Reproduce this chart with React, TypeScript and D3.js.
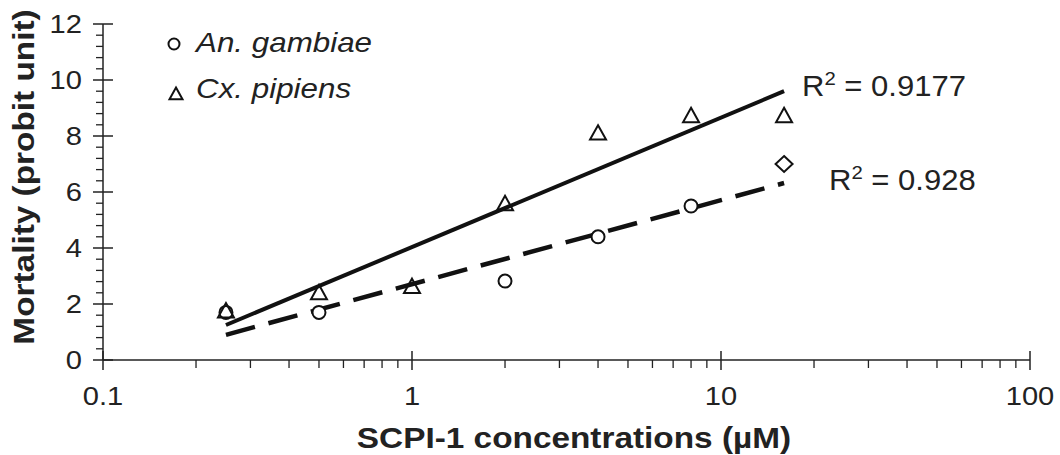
import React from "react";
import * as d3 from "d3";

const W = 1060;
const H = 455;

const cxX = [0.25, 0.5, 1, 2, 4, 8, 16];
const cxY = [1.75, 2.4, 2.62, 5.58, 8.1, 8.72, 8.72];
const anX = [0.25, 0.5, 2, 4, 8];
const anY = [1.7, 1.7, 2.82, 4.4, 5.5];
const extraX = [16];
const extraY = [7.0];

const trendX = [0.25, 16];
const trendCxY = [1.25, 9.6];
const trendAnY = [0.9, 6.32];

const xTicks = [0.1, 1, 10, 100];
const yTicks = [0, 2, 4, 6, 8, 10, 12];

const font = "Liberation Sans, Arial, sans-serif";

function T(props: {
  x: number;
  y: number;
  sx?: number;
  rot?: number;
  anchor?: string;
  size: number;
  bold?: boolean;
  italic?: boolean;
  children: React.ReactNode;
}) {
  const { x, y, sx = 1.12, rot = 0, anchor = "start", size, bold, italic, children } = props;
  return (
    <g transform={`translate(${x},${y}) rotate(${rot}) scale(${sx},1)`}>
      <text
        x={0}
        y={0}
        textAnchor={anchor}
        fontFamily={font}
        fontSize={size}
        fontWeight={bold ? "bold" : "normal"}
        fontStyle={italic ? "italic" : "normal"}
        fill="#222"
      >
        {children}
      </text>
    </g>
  );
}

export default function App() {
  const left = 103, right = 1030, top = 24, bottom = 360;
  const x = d3.scaleLog().domain([0.1, 100]).range([left, right]);
  const y = d3.scaleLinear().domain([0, 12]).range([bottom, top]);

  const minorX: number[] = [];
  for (const dec of [0.1, 1, 10]) for (let k = 2; k <= 9; k++) minorX.push(dec * k);
  const minorY: number[] = [];
  for (let i = 0; i <= 30; i++) {
    const v = +(i * 0.4).toFixed(2);
    if (Math.abs(v / 2 - Math.round(v / 2)) > 1e-6) minorY.push(v);
  }

  const line = d3.line<[number, number]>().x((d) => x(d[0])).y((d) => y(d[1]));
  const cxLine = line(trendX.map((v, i) => [v, trendCxY[i]]))!;
  const anLine = line(trendX.map((v, i) => [v, trendAnY[i]]))!;

  const tri = (cx: number, cy: number, s = 8) =>
    `M${cx},${cy - s}L${cx + s},${cy + s * 0.8}L${cx - s},${cy + s * 0.8}Z`;

  return (
    <svg width={W} height={H} style={{ position: "absolute", left: 0, top: 0, background: "#fff" }}>
      <rect width={W} height={H} fill="#fff" />
      {/* axes */}
      <line x1={left} x2={right} y1={bottom} y2={bottom} stroke="#222" strokeWidth={1.5} />
      <line x1={left} x2={left} y1={top} y2={bottom} stroke="#222" strokeWidth={1.5} />
      {xTicks.map((t) => (
        <g key={"xt" + t}>
          <line x1={x(t)} x2={x(t)} y1={bottom - 9} y2={bottom + 10} stroke="#222" strokeWidth={1.5} />
          <T x={x(t)} y={405} anchor="middle" size={26}>
            {t}
          </T>
        </g>
      ))}
      {minorX.map((t) => (
        <line key={"xm" + t} x1={x(t)} x2={x(t)} y1={bottom} y2={bottom + 8} stroke="#222" strokeWidth={1.3} />
      ))}
      {yTicks.map((t) => (
        <g key={"yt" + t}>
          <line x1={left - 10} x2={left + 10} y1={y(t)} y2={y(t)} stroke="#222" strokeWidth={1.5} />
          <T x={82} y={y(t) + 9} anchor="end" size={26}>
            {t}
          </T>
        </g>
      ))}
      {minorY.map((t) => (
        <line key={"ym" + t} x1={left - 7} x2={left} y1={y(t)} y2={y(t)} stroke="#222" strokeWidth={1.3} />
      ))}
      {/* axis titles */}
      <T x={34} y={177} rot={-90} anchor="middle" size={29} sx={1.15} bold>
        Mortality (probit unit)
      </T>
      <T x={574} y={448} anchor="middle" size={29} sx={1.15} bold>
        SCPI-1 concentrations (µM)
      </T>
      {/* trend lines */}
      <path d={cxLine} fill="none" stroke="#111" strokeWidth={4} />
      <path d={anLine} fill="none" stroke="#111" strokeWidth={4.5} strokeDasharray="30,14" />
      {/* markers */}
      {anX.map((v, i) => (
        <circle key={"an" + i} cx={x(v)} cy={y(anY[i])} r={6.5} fill="#fff" stroke="#111" strokeWidth={2} />
      ))}
      {cxX.map((v, i) => (
        <path key={"cx" + i} d={tri(x(v), y(cxY[i]))} fill="none" stroke="#111" strokeWidth={2} />
      ))}
      {extraX.map((v, i) => (
        <path
          key={"ex" + i}
          d={`M${x(v)},${y(extraY[i]) - 8}L${x(v) + 8.5},${y(extraY[i])}L${x(v)},${y(extraY[i]) + 8}L${x(v) - 8.5},${y(extraY[i])}Z`}
          fill="none"
          stroke="#111"
          strokeWidth={2}
        />
      ))}
      {/* legend */}
      <circle cx={174} cy={44} r={5.5} fill="none" stroke="#111" strokeWidth={2} />
      <T x={196} y={52} size={28} italic>
        An. gambiae
      </T>
      <path d={tri(176, 94, 6.5)} fill="none" stroke="#111" strokeWidth={2} />
      <T x={196} y={98} size={28} italic>
        Cx. pipiens
      </T>
      {/* R2 labels */}
      <T x={802} y={96} size={29} sx={1.07}>
        R<tspan dy={-11} fontSize={19}>2</tspan>
        <tspan dy={11}> = 0.9177</tspan>
      </T>
      <T x={829} y={190} size={29} sx={1.07}>
        R<tspan dy={-11} fontSize={19}>2</tspan>
        <tspan dy={11}> = 0.928</tspan>
      </T>
    </svg>
  );
}
